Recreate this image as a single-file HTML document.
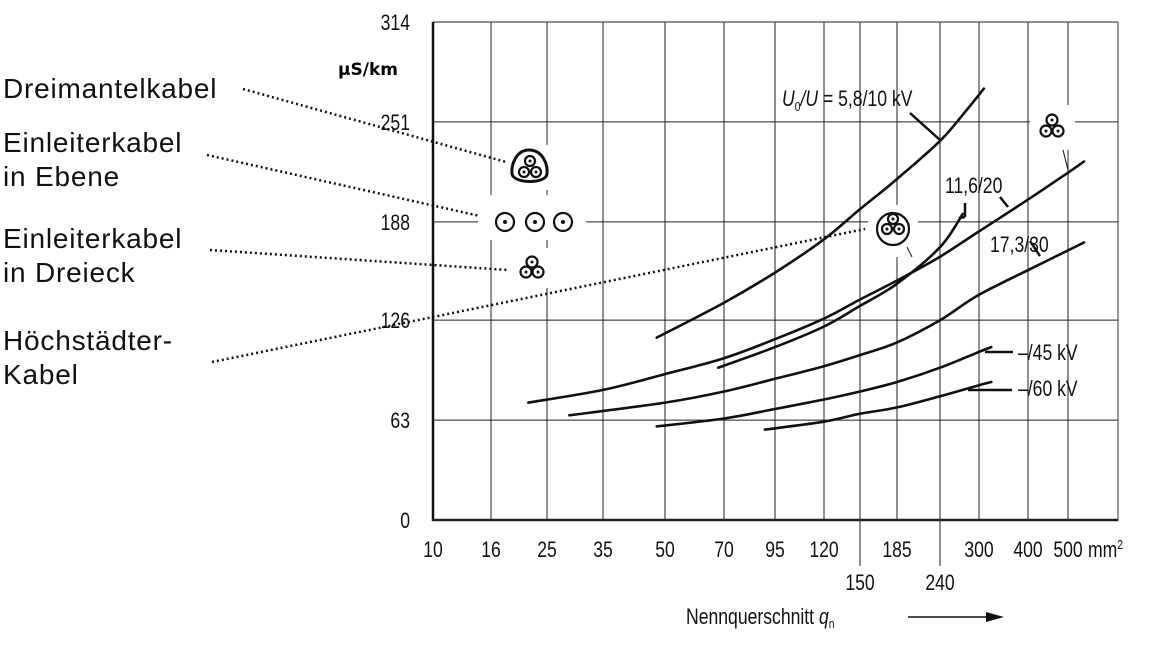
<!DOCTYPE html>
<html><head><meta charset="utf-8"><style>
body{margin:0;background:#fff;}
svg{display:block;font-family:"Liberation Sans",sans-serif;}
</style></head><body>
<svg id="chart" width="1149" height="645" viewBox="0 0 1149 645" xmlns="http://www.w3.org/2000/svg" style="position:absolute;left:0;top:0">
<g id="grid"></g>
<g id="curves"></g>
<g id="labels"></g>
</svg>
<script>
const NS="http://www.w3.org/2000/svg";
// data
const xCats=[10,16,25,35,50,70,95,120,150,185,240,300,400,500];
const xTickLabels=["10","16","25","35","50","70","95","120","150","185","240","300","400","500"];
const yTicks=[0,63,126,188,251,314];
const s10q=[48,70,95,120,150,185,240,280,310];      const s10v=[115,137,156,177,196,215,239,258,272];
const s20q=[22,35,50,70,95,120,150,185,240,300,400,500,540]; const s20v=[74,82,92,102,114,127,139,151,166,182,202,219,226];
const sHq=[68,95,120,150,185,240,275];       const sHv=[96,109,122,135,149,172,193];
const s30q=[29,50,70,95,120,150,185,240,300,420,540]; const s30v=[66,74,81,89,97,104,112,126,142,160,175];
const s45q=[48,70,95,120,150,185,240,300,325];      const s45v=[59,64,70,76,81,87,96,106,109];
const s60q=[90,120,150,185,240,300,325];         const s60v=[57,62,67,71,78,85,87];
// axis functions
const gridPx=[433,491,547,603,665,724,775,824,860,897,940,979,1028,1068];
function xs(q){
  if(q<=xCats[0])return gridPx[0];
  for(let i=0;i<xCats.length-1;i++){
    if(q<=xCats[i+1]){const t=(q-xCats[i])/(xCats[i+1]-xCats[i]);return gridPx[i]+t*(gridPx[i+1]-gridPx[i]);}
  }
  const n=xCats.length-1;return gridPx[n]+(q-xCats[n])/(xCats[n]-xCats[n-1])*(gridPx[n]-gridPx[n-1]);
}
function ys(v){return 520-v*(498/314);}
function mk(tag,attrs,parent){const e=document.createElementNS(NS,tag);for(const k in attrs)e.setAttribute(k,attrs[k]);parent.appendChild(e);return e;}
function ntext(x,y,str,anchor,parent,size){
  const t=mk('text',{transform:'translate('+x+','+y+') scale(0.8,1)','text-anchor':anchor,'font-size':size||22,fill:'#111'},parent);
  t.textContent=str;return t;
}
const grid=document.getElementById('grid'),cur=document.getElementById('curves'),lab=document.getElementById('labels');
xCats.forEach((c,i)=>{
  const x=xs(c);const second=(c===150||c===240);const ext=second?566:520;
  const l=mk('line',{x1:x,y1:22,x2:x,y2:ext,stroke:'#222','stroke-width':1},grid);
  
  
  const t=ntext(x,second?590:557,xTickLabels[i],'middle',lab);
  
  
});
yTicks.forEach(v=>{
  const y=ys(v);
  const l=mk('line',{x1:433,y1:y,x2:1118,y2:y,stroke:'#222','stroke-width':v===0?2.5:1},grid);
  
  
  const t=ntext(410,y+8,String(v),'end',lab);
  
  
});
mk('line',{x1:433,y1:22,x2:433,y2:521,stroke:'#111','stroke-width':2.5},grid);
mk('line',{x1:1118,y1:22,x2:1118,y2:521,stroke:'#333','stroke-width':1},grid);
[[478,195,108,45],[508,145,50,45],[510,248,40,40],[868,205,50,52],[1030,105,45,45]].forEach(r=>mk('rect',{x:r[0],y:r[1],width:r[2],height:r[3],fill:'#fff'},grid));
function curve(q,v,name){
  const P=q.map((qq,i)=>[xs(qq),ys(v[i])]);
  let d='M'+P[0][0].toFixed(1)+','+P[0][1].toFixed(1);
  for(let i=0;i<P.length-1;i++){
    const p0=P[Math.max(0,i-1)],p1=P[i],p2=P[i+1],p3=P[Math.min(P.length-1,i+2)];
    const c1=[p1[0]+(p2[0]-p0[0])/6,p1[1]+(p2[1]-p0[1])/6];
    const c2=[p2[0]-(p3[0]-p1[0])/6,p2[1]-(p3[1]-p1[1])/6];
    d+=' C'+c1[0].toFixed(1)+','+c1[1].toFixed(1)+' '+c2[0].toFixed(1)+','+c2[1].toFixed(1)+' '+p2[0].toFixed(1)+','+p2[1].toFixed(1);
  }
  const p=mk('path',{d:d,fill:'none',stroke:'#111','stroke-width':2.6,'stroke-linecap':'round'},cur);
  
  
}
curve(s10q,s10v,'curve-5-8-10kv');
curve(s20q,s20v,'curve-11-6-20kv');
curve(sHq,sHv,'curve-hoechstaedter-20kv');
curve(s30q,s30v,'curve-17-3-30kv');
curve(s45q,s45v,'curve-45kv');
curve(s60q,s60v,'curve-60kv');
</script>
<svg style="position:absolute;left:0;top:0" width="1149" height="645" xmlns="http://www.w3.org/2000/svg">
<g stroke="#111" stroke-width="2.5" fill="none">
<line x1="910" y1="113" x2="940" y2="140"/>
<line x1="1000" y1="197" x2="1008" y2="207"/>
<line x1="965" y1="203" x2="965" y2="217"/><line x1="965" y1="217" x2="959" y2="218"/>
<line x1="1030" y1="241" x2="1040" y2="256"/>
<line x1="985" y1="352" x2="1013" y2="352"/>
<line x1="968" y1="390" x2="1012" y2="390"/>
<line x1="907" y1="247" x2="912" y2="257" stroke-width="1"/>
<line x1="1063" y1="150" x2="1068" y2="170" stroke-width="1"/>
</g>
<g stroke="#111" stroke-width="2.5" stroke-dasharray="2,3" fill="none">
<line x1="243" y1="89" x2="506" y2="162"/>
<line x1="207" y1="155" x2="480" y2="216"/>
<line x1="210" y1="250" x2="508" y2="270"/>
<line x1="212" y1="362" x2="865" y2="229"/>
</g>
<g font-family="Liberation Sans, sans-serif" font-size="28" fill="#111" letter-spacing="0.8">
<text x="3" y="98">Dreimantelkabel</text>
<text x="3" y="152">Einleiterkabel</text>
<text x="3" y="186">in Ebene</text>
<text x="3" y="248">Einleiterkabel</text>
<text x="3" y="282">in Dreieck</text>
<text x="3" y="350">Höchstädter-</text>
<text x="3" y="384">Kabel</text>
</g>
<text x="338" y="75" font-family="DejaVu Sans, sans-serif" font-weight="bold" font-size="17">μS/km</text>
<g font-family="Liberation Sans, sans-serif" font-size="22" fill="#111">
<text transform="translate(782,106) scale(0.8,1)"><tspan font-style="italic">U</tspan><tspan font-size="13" dy="5">0</tspan><tspan dy="-5" font-style="italic">/U</tspan><tspan> = 5,8/10 kV</tspan></text>
<text transform="translate(945,193) scale(0.8,1)">11,6/20</text>
<text transform="translate(990,252) scale(0.8,1)">17,3/30</text>
<text transform="translate(1018,360) scale(0.8,1)">–/45 kV</text>
<text transform="translate(1018,396) scale(0.8,1)">–/60 kV</text>
<text transform="translate(1088,557) scale(0.8,1)">mm<tspan font-size="13" dy="-8">2</tspan></text>
<text transform="translate(686,624) scale(0.8,1)">Nennquerschnitt <tspan font-style="italic">q</tspan><tspan font-size="13" dy="4">n</tspan></text>
</g>
<g>
<line x1="908" y1="617" x2="992" y2="617" stroke="#111" stroke-width="1.5"/>
<polygon points="1004,617 986,612 986,622" fill="#111"/>
</g>
<g fill="none" stroke="#111" stroke-width="2.2">
<path d="M529,150 C543,150 548,165 547,174 C546,184 514,184 512,174 C511,165 516,150 529,150 Z" stroke-width="3"/>
<circle cx="530" cy="161" r="5"/><circle cx="524" cy="172" r="5"/><circle cx="536" cy="172" r="5"/>
<circle cx="505" cy="222" r="9"/><circle cx="535" cy="222" r="9"/><circle cx="563" cy="222" r="9"/>
<circle cx="532" cy="262" r="5.5"/><circle cx="526" cy="272" r="5.5"/><circle cx="538" cy="272" r="5.5"/>
<circle cx="893" cy="229" r="16"/>
<circle cx="893" cy="219" r="5"/><circle cx="887" cy="229" r="5"/><circle cx="899" cy="229" r="5"/>
<circle cx="1052" cy="120" r="5.5"/><circle cx="1046" cy="131" r="5.5"/><circle cx="1058" cy="131" r="5.5"/>
</g>
<g fill="#111">
<circle cx="530" cy="161" r="1.5"/><circle cx="524" cy="172" r="1.5"/><circle cx="536" cy="172" r="1.5"/>
<circle cx="505" cy="222" r="2"/><circle cx="535" cy="222" r="2"/><circle cx="563" cy="222" r="2"/>
<circle cx="532" cy="262" r="1.5"/><circle cx="526" cy="272" r="1.5"/><circle cx="538" cy="272" r="1.5"/>
<circle cx="893" cy="219" r="1.5"/><circle cx="887" cy="229" r="1.5"/><circle cx="899" cy="229" r="1.5"/>
<circle cx="1052" cy="120" r="1.5"/><circle cx="1046" cy="131" r="1.5"/><circle cx="1058" cy="131" r="1.5"/>
</g>
</svg>
</body></html>
